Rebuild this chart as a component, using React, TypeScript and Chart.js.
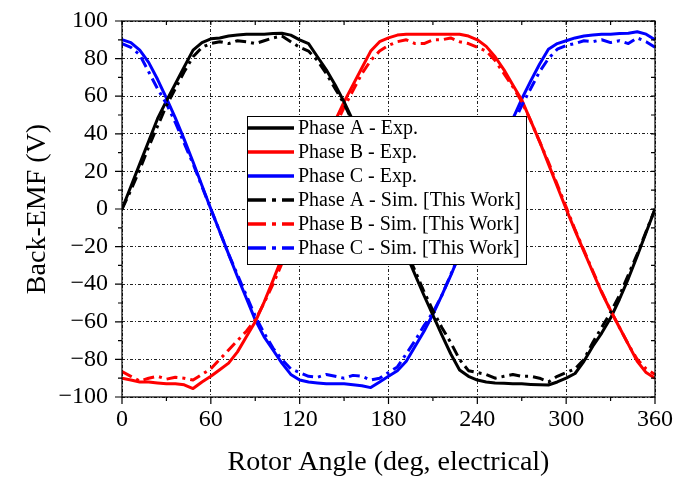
import React, { useEffect, useRef } from "react";
import { Chart, registerables } from "chart.js";

Chart.register(...registerables);

// Rotor angle samples (electrical degrees)
const angleDeg = [
  0, 6, 12, 18, 24, 30, 36, 42, 48, 54, 60, 66, 72, 78, 84, 90, 96, 102, 108, 114,
  120, 126, 132, 138, 144, 150, 156, 162, 168, 174, 180, 186, 192, 198, 204, 210,
  216, 222, 228, 234, 240, 246, 252, 258, 264, 270, 276, 282, 288, 294, 300, 306,
  312, 318, 324, 330, 336, 342, 348, 354, 360,
];

// Measured back-EMF (V)
const phaseAExp = [
  0, 12, 24, 36, 48, 57.5, 66.5, 75.5, 84.5, 88.5, 90.5, 91, 92, 92.5, 93, 93, 93, 93.3, 93.5, 92.5,
  90, 88, 81, 74, 66, 57, 47, 36, 24.5, 12.5, 0, -12, -24, -35, -46, -56.5,
  -67, -77, -85.6, -89, -91, -92, -92.5, -92.7, -93, -93, -93.3, -93.5, -93.6, -92, -90, -87.5,
  -81, -73, -66, -58, -48, -37, -25, -12.5, 0,
];
const phaseBExp = [
  -90, -91, -92, -92, -92.5, -93, -93, -93.5, -95.5, -92, -89, -85.5, -82, -76, -68, -60, -49.5, -38, -26, -13,
  0, 12, 24, 36, 47, 57, 66, 75, 84, 89, 91, 92.5, 93, 93, 93, 93,
  93, 93, 93, 92, 90, 86.5, 81, 74, 66, 58, 47, 36, 24, 12, 0, -11.5,
  -22.5, -33.5, -44.5, -54, -63, -72, -81, -87, -90,
];
const phaseCExp = [
  90, 88.5, 84.5, 78, 69, 59, 48.5, 37, 25, 12.5, 0, -12, -24, -36, -47.5, -59, -68, -75, -82, -88,
  -91, -92, -92.5, -93, -93, -93, -93.5, -94, -95, -92, -89, -86, -81, -73, -65, -56,
  -46, -35.5, -24, -12, 0, 12, 24, 36, 48, 58.5, 68, 77, 85, 88, 89.5, 91,
  92, 92.5, 93, 93, 93.3, 93.5, 94.3, 93, 90,
];

// Simulated back-EMF (V)
const phaseASim = [
  0, 10, 21, 33, 44, 55, 64, 73, 81, 86, 88, 89, 88, 89.5, 89, 88, 89.5, 91, 92, 89,
  86, 84, 79, 72, 64, 56, 46, 35, 24, 12, 0, -11, -22, -33, -44, -54,
  -63, -71, -80, -86, -87, -88, -90, -89, -88, -89, -89, -90, -92, -89, -87, -85,
  -80, -71, -63, -55, -46, -35, -24, -12, 0,
];
const phaseBSim = [
  -86.5, -89, -91.5, -90, -89, -90.5, -89.5, -90, -91, -88, -85, -80, -75, -70, -65, -59, -50, -40, -29, -16,
  -3, 9, 21, 33, 44, 54, 63, 72, 79, 84, 87, 89, 90, 88, 88, 90,
  90, 91, 89, 88, 86, 84, 79, 72, 65, 57, 47, 36, 25, 13, 1, -11,
  -22, -33, -44, -54, -63, -72, -80, -85, -88,
];
const phaseCSim = [
  88, 86, 82, 73, 64, 56, 46, 35, 24, 12, 0, -12, -24, -35, -46, -57, -66, -74, -80, -85,
  -87, -89, -89.5, -88, -89, -90, -88.5, -89, -91, -90, -87, -84, -77, -70, -62, -55,
  -46, -35, -24, -12, 0, 12, 23, 34, 45, 55, 64, 73, 80, 85, 87, 88,
  89.5, 89, 90, 88.5, 89.5, 88, 91, 89, 86,
];

const seriesLabels = [
  "Phase A - Exp.",
  "Phase B - Exp.",
  "Phase C - Exp.",
  "Phase A - Sim. [This Work]",
  "Phase B - Sim. [This Work]",
  "Phase C - Sim. [This Work]",
];
const seriesValues = [phaseAExp, phaseBExp, phaseCExp, phaseASim, phaseBSim, phaseCSim];
const seriesColors = ["#000000", "#ff0000", "#0000ff", "#000000", "#ff0000", "#0000ff"];

const xTitle = "Rotor Angle (deg, electrical)";
const yTitle = "Back-EMF (V)";

const SERIF = "'Liberation Serif', 'Times New Roman', serif";
const SIM_DASH = [11, 5, 3, 5];
const LEGEND_SIM_DASH = [18, 6, 4, 6];

// Draws the boxed frame with major/minor ticks and the inset legend
const frameAndLegend = {
  id: "frameAndLegend",
  afterDraw(chart: any) {
    const { ctx, chartArea: a, scales } = chart;
    const xs = scales.x;
    const ys = scales.y;
    ctx.save();

    const xMajor: number[] = xs.ticks.map((t: any) => t.value);
    const yMajor: number[] = ys.ticks.map((t: any) => t.value);
    const mids = (arr: number[]) => arr.slice(1).map((v, i) => (v + arr[i]) / 2);
    const xMinor = mids(xMajor);
    const yMinor = mids(yMajor);

    ctx.strokeStyle = "#000";
    ctx.lineWidth = 1.2;
    ctx.setLineDash([]);
    ctx.beginPath();
    // bottom axis: outward
    for (const v of xMajor) {
      const p = xs.getPixelForValue(v);
      ctx.moveTo(p, a.bottom);
      ctx.lineTo(p, a.bottom + 7);
    }
    for (const v of xMinor) {
      const p = xs.getPixelForValue(v);
      ctx.moveTo(p, a.bottom);
      ctx.lineTo(p, a.bottom + 4);
    }
    // top axis: inward
    for (const v of [...xMajor, ...xMinor]) {
      const p = xs.getPixelForValue(v);
      ctx.moveTo(p, a.top);
      ctx.lineTo(p, a.top + 4);
    }
    // left axis: outward
    for (const v of yMajor) {
      const p = ys.getPixelForValue(v);
      ctx.moveTo(a.left, p);
      ctx.lineTo(a.left - 7, p);
    }
    for (const v of yMinor) {
      const p = ys.getPixelForValue(v);
      ctx.moveTo(a.left, p);
      ctx.lineTo(a.left - 4, p);
    }
    // right axis: inward
    for (const v of [...yMajor, ...yMinor]) {
      const p = ys.getPixelForValue(v);
      ctx.moveTo(a.right, p);
      ctx.lineTo(a.right - 4, p);
    }
    ctx.stroke();
    ctx.strokeRect(a.left, a.top, a.right - a.left, a.bottom - a.top);

    // legend
    const bx = 247, by = 116, bw = 279, bh = 148;
    ctx.fillStyle = "#fff";
    ctx.fillRect(bx, by, bw, bh);
    ctx.lineWidth = 1;
    ctx.strokeStyle = "#000";
    ctx.strokeRect(bx + 0.5, by + 0.5, bw, bh);
    ctx.font = `20px ${SERIF}`;
    ctx.textBaseline = "middle";
    ctx.textAlign = "left";
    chart.data.datasets.forEach((ds: any, i: number) => {
      const y = by + 12 + i * 24;
      ctx.strokeStyle = ds.borderColor;
      ctx.lineWidth = 3.5;
      ctx.setLineDash(ds.borderDash && ds.borderDash.length ? LEGEND_SIM_DASH : []);
      ctx.beginPath();
      ctx.moveTo(bx + 1, y);
      ctx.lineTo(bx + 47, y);
      ctx.stroke();
      ctx.setLineDash([]);
      ctx.fillStyle = "#000";
      ctx.fillText(ds.label, bx + 51, y + 1);
    });
    ctx.restore();
  },
};

export default function App() {
  const canvasRef = useRef<HTMLCanvasElement | null>(null);

  useEffect(() => {
    if (!canvasRef.current) return;
    const datasets = seriesLabels.map((label, i) => ({
      label,
      data: angleDeg.map((x, j) => ({ x, y: seriesValues[i][j] })),
      borderColor: seriesColors[i],
      backgroundColor: seriesColors[i],
      borderWidth: 3,
      borderDash: i >= 3 ? SIM_DASH : [],
      pointRadius: 0,
      tension: 0,
      fill: false,
      borderJoinStyle: "round" as const,
      order: i >= 3 ? 0 : 1,
    }));

    const gridDash = [3, 2, 1, 2];
    const chart = new Chart(canvasRef.current, {
      type: "line",
      data: { datasets },
      plugins: [frameAndLegend],
      options: {
        animation: false,
        responsive: false,
        devicePixelRatio: 1,
        layout: { padding: { left: 0, top: 21, right: 19, bottom: 0 } },
        plugins: { legend: { display: false }, tooltip: { enabled: false } },
        scales: {
          x: {
            type: "linear",
            min: 0,
            max: 360,
            ticks: {
              stepSize: 60,
              color: "#000",
              padding: 8,
              maxRotation: 0,
              font: { family: SERIF, size: 24 },
            },
            grid: { color: "#222", lineWidth: 1, drawTicks: false },
            border: { display: false, dash: gridDash },
            title: {
              display: true,
              text: xTitle,
              color: "#000",
              padding: { top: 0, bottom: 0 },
              font: { family: SERIF, size: 28 },
            },
            afterFit: (s: any) => {
              s.height = 82;
              s.paddingLeft = 0;
              s.paddingRight = 0;
            },
          },
          y: {
            type: "linear",
            min: -100,
            max: 100,
            ticks: {
              stepSize: 20,
              color: "#000",
              padding: 14,
              font: { family: SERIF, size: 24 },
              callback: (v: any) => String(v).replace("-", "\u2212"),
            },
            grid: { color: "#222", lineWidth: 1, drawTicks: false },
            border: { display: false, dash: gridDash },
            title: {
              display: true,
              text: yTitle,
              color: "#000",
              padding: { top: 21, bottom: 0 },
              font: { family: SERIF, size: 28 },
            },
            afterFit: (s: any) => {
              s.width = 122;
              s.paddingTop = 0;
              s.paddingBottom = 0;
            },
          },
        },
      },
    });
    return () => chart.destroy();
  }, []);

  return (
    <div style={{ position: "absolute", left: 0, top: 0, width: 674, height: 479, background: "#fff" }}>
      <canvas ref={canvasRef} width={674} height={479} />
    </div>
  );
}
